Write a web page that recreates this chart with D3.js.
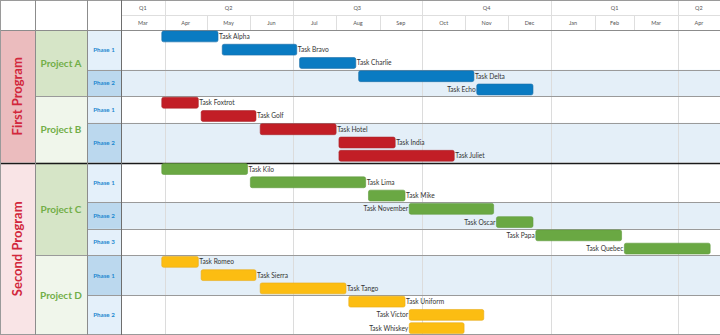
<!DOCTYPE html>
<html>
<head>
<meta charset="utf-8">
<script src="https://cdn.jsdelivr.net/npm/d3@7"></script>
<style>
  html, body { margin: 0; padding: 0; background: #fff; }
  svg { display: block; }
</style>
</head>
<body>
<svg id="chart" width="720" height="335"></svg>
<script>
// ---------- DATA ----------
const programs = ["First Program", "Second Program"];
const projects = ["Project A", "Project B", "Project C", "Project D"];
const projectProgram = ["First Program", "First Program", "Second Program", "Second Program"];

const taskNames = [
  "Task Alpha", "Task Bravo", "Task Charlie", "Task Delta", "Task Echo",
  "Task Foxtrot", "Task Golf", "Task Hotel", "Task India", "Task Juliet",
  "Task Kilo", "Task Lima", "Task Mike", "Task November", "Task Oscar", "Task Papa", "Task Quebec",
  "Task Romeo", "Task Sierra", "Task Tango", "Task Uniform", "Task Victor", "Task Whiskey"
];
const taskProject = [
  "Project A", "Project A", "Project A", "Project A", "Project A",
  "Project B", "Project B", "Project B", "Project B", "Project B",
  "Project C", "Project C", "Project C", "Project C", "Project C", "Project C", "Project C",
  "Project D", "Project D", "Project D", "Project D", "Project D", "Project D"
];
const taskPhase = [
  "Phase 1", "Phase 1", "Phase 1", "Phase 2", "Phase 2",
  "Phase 1", "Phase 1", "Phase 2", "Phase 2", "Phase 2",
  "Phase 1", "Phase 1", "Phase 1", "Phase 2", "Phase 2", "Phase 3", "Phase 3",
  "Phase 1", "Phase 1", "Phase 1", "Phase 2", "Phase 2", "Phase 2"
];
const taskStart = [
  "2022-03-30", "2022-05-12", "2022-07-06", "2022-08-17", "2022-11-09",
  "2022-03-30", "2022-04-27", "2022-06-08", "2022-08-03", "2022-08-03",
  "2022-03-30", "2022-06-01", "2022-08-24", "2022-09-22", "2022-11-23", "2022-12-21", "2023-02-22",
  "2022-03-30", "2022-04-27", "2022-06-08", "2022-08-10", "2022-09-22", "2022-09-22"
];
const taskEnd = [
  "2022-05-09", "2022-07-04", "2022-08-15", "2022-11-07", "2022-12-19",
  "2022-04-25", "2022-06-05", "2022-08-01", "2022-09-12", "2022-10-24",
  "2022-05-30", "2022-08-22", "2022-09-19", "2022-11-21", "2022-12-19", "2023-02-20", "2023-04-24",
  "2022-04-25", "2022-06-05", "2022-08-08", "2022-09-19", "2022-11-14", "2022-10-31"
];
const taskLabelSide = [
  "right", "right", "right", "right", "left",
  "right", "right", "right", "right", "right",
  "right", "right", "right", "left", "left", "left", "left",
  "right", "right", "right", "right", "left", "left"
];
const monthLabels = ["Mar", "Apr", "May", "Jun", "Jul", "Aug", "Sep", "Oct", "Nov", "Dec", "Jan", "Feb", "Mar", "Apr"];
const quarterLabels = ["Q1", "Q2", "Q3", "Q4", "Q1", "Q2"];
const timelineStart = "2022-03-01";
const timelineEnd = "2023-05-01";

// ---------- STYLE ----------
const W = 720, H = 335;
const colX = [0, 35, 87, 121];
const headerMid = 15, headerBottom = 30;
const projectColors = { "Project A": "#0a7bc2", "Project B": "#c21e26", "Project C": "#6aa843", "Project D": "#fcbd12" };
const projectStroke = { "Project A": "#1d6fa8", "Project B": "#a8262b", "Project C": "#5f9a3c", "Project D": "#e7ab18" };
const programFill = ["#ebbcbe", "#f9e4e6"];
const projectFill = ["#d6e5c7", "#f0f6eb"];
const labelFont = "Lato, 'Open Sans', sans-serif";

const parse = d3.timeParse("%Y-%m-%d");
const svg = d3.select("#chart");

const x = d3.scaleTime().domain([parse(timelineStart), parse(timelineEnd)]).range([colX[3], W]);
const y = d3.scaleBand().domain(taskNames).range([headerBottom, H]).padding(0);
const step = y.step();

const tasks = taskNames.map((n, i) => ({
  name: n, project: taskProject[i], phase: taskPhase[i],
  start: parse(taskStart[i]), end: parse(taskEnd[i]), side: taskLabelSide[i]
}));

// Phase groups
const phaseGroups = [];
tasks.forEach(t => {
  const key = t.project + "|" + t.phase;
  let g = phaseGroups.find(p => p.key === key);
  if (!g) { g = { key, project: t.project, phase: t.phase, tasks: [] }; phaseGroups.push(g); }
  g.tasks.push(t.name);
});
phaseGroups.forEach((g, i) => {
  g.y0 = y(g.tasks[0]);
  g.y1 = y(g.tasks[g.tasks.length - 1]) + step;
  g.idx = i;
});
const projGroups = projects.map((p, i) => {
  const ts = tasks.filter(t => t.project === p).map(t => t.name);
  return { name: p, idx: i, y0: y(ts[0]), y1: y(ts[ts.length - 1]) + step };
});
const progGroups = programs.map((p, i) => {
  const ts = tasks.filter(t => projectProgram[projects.indexOf(t.project)] === p).map(t => t.name);
  return { name: p, idx: i, y0: y(ts[0]), y1: y(ts[ts.length - 1]) + step };
});

// ---------- BACKGROUNDS ----------
svg.append("rect").attr("x", 0).attr("y", 0).attr("width", W).attr("height", H).attr("fill", "#fff");

// row backgrounds in chart area
svg.append("g").selectAll("rect").data(phaseGroups).join("rect")
  .attr("x", colX[3]).attr("y", d => d.y0).attr("width", W - colX[3]).attr("height", d => d.y1 - d.y0)
  .attr("fill", d => d.idx % 2 ? "#e4eff8" : "#ffffff");

// phase cells
svg.append("g").selectAll("rect").data(phaseGroups).join("rect")
  .attr("x", colX[2]).attr("y", d => d.y0).attr("width", colX[3] - colX[2]).attr("height", d => d.y1 - d.y0)
  .attr("fill", d => d.idx % 2 ? "#bbd8ee" : "#e4f0fa");

// project cells
svg.append("g").selectAll("rect").data(projGroups).join("rect")
  .attr("x", colX[1]).attr("y", d => d.y0).attr("width", colX[2] - colX[1]).attr("height", d => d.y1 - d.y0)
  .attr("fill", d => projectFill[d.idx % 2]);

// program cells
svg.append("g").selectAll("rect").data(progGroups).join("rect")
  .attr("x", colX[0]).attr("y", d => d.y0).attr("width", colX[1] - colX[0]).attr("height", d => d.y1 - d.y0)
  .attr("fill", d => programFill[d.idx % 2]);

// ---------- GRID ----------
const months = d3.timeMonth.range(parse(timelineStart), parse(timelineEnd));
const quarterBounds = [parse(timelineStart)].concat(
  d3.timeMonth.every(3).range(d3.timeDay.offset(parse(timelineStart), 1), parse(timelineEnd))
).concat([parse(timelineEnd)]);

// body vertical quarter lines
svg.append("g").selectAll("line").data(quarterBounds.slice(1, -1)).join("line")
  .attr("x1", d => Math.round(x(d)) + 0.5).attr("x2", d => Math.round(x(d)) + 0.5)
  .attr("y1", headerBottom).attr("y2", H)
  .attr("stroke", "#dcdcdc").attr("stroke-width", 1);

// header vertical lines: months in lower row, quarters in upper row
svg.append("g").selectAll("line").data(months.slice(1)).join("line")
  .attr("x1", d => Math.round(x(d)) + 0.5).attr("x2", d => Math.round(x(d)) + 0.5)
  .attr("y1", headerMid).attr("y2", headerBottom)
  .attr("stroke", "#dedede");
svg.append("g").selectAll("line").data(quarterBounds.slice(1, -1)).join("line")
  .attr("x1", d => Math.round(x(d)) + 0.5).attr("x2", d => Math.round(x(d)) + 0.5)
  .attr("y1", 0).attr("y2", headerMid)
  .attr("stroke", "#dedede");
svg.append("line").attr("x1", colX[3]).attr("x2", W).attr("y1", headerMid + 0.5).attr("y2", headerMid + 0.5)
  .attr("stroke", "#dedede");

// horizontal lines between phases in chart + phase column
svg.append("g").selectAll("line").data(phaseGroups.slice(1)).join("line")
  .attr("x1", colX[2]).attr("x2", W)
  .attr("y1", d => Math.round(d.y0) + 0.5).attr("y2", d => Math.round(d.y0) + 0.5)
  .attr("stroke", "#9a9a9a");
// project boundaries across project column
svg.append("g").selectAll("line").data(projGroups.slice(1)).join("line")
  .attr("x1", colX[1]).attr("x2", W)
  .attr("y1", d => Math.round(d.y0) + 0.5).attr("y2", d => Math.round(d.y0) + 0.5)
  .attr("stroke", "#9a9a9a");
// program boundary
svg.append("g").selectAll("line").data(progGroups.slice(1)).join("line")
  .attr("x1", 0).attr("x2", W)
  .attr("y1", d => Math.round(d.y0) + 0.5).attr("y2", d => Math.round(d.y0) + 0.5)
  .attr("stroke", "#1a1a1a").attr("stroke-width", 1.4);

// header bottom, top, bottom border
svg.append("line").attr("x1", 0).attr("x2", W).attr("y1", headerBottom + 0.5).attr("y2", headerBottom + 0.5)
  .attr("stroke", "#8c8c8c");
svg.append("line").attr("x1", 0).attr("x2", W).attr("y1", 0.5).attr("y2", 0.5).attr("stroke", "#9a9a9a");
svg.append("line").attr("x1", 0).attr("x2", W).attr("y1", H - 0.5).attr("y2", H - 0.5).attr("stroke", "#9a9a9a");

// column vertical lines
svg.append("g").selectAll("line").data(colX.slice(1)).join("line")
  .attr("x1", d => d + 0.5).attr("x2", d => d + 0.5).attr("y1", 0).attr("y2", H)
  .attr("stroke", (d, i) => i === 2 ? "#6e6e6e" : "#8c8c8c");
svg.append("line").attr("x1", 0.5).attr("x2", 0.5).attr("y1", 0).attr("y2", H).attr("stroke", "#9a9a9a");

// ---------- HEADER TEXT ----------
svg.append("g").selectAll("text").data(months).join("text")
  .attr("x", (d, i) => (x(d) + Math.min(W, x(d3.timeMonth.offset(d, 1)))) / 2)
  .attr("y", 24.5)
  .attr("text-anchor", "middle")
  .attr("font-family", labelFont).attr("font-size", 5.5).attr("fill", "#555")
  .text((d, i) => monthLabels[i]);

svg.append("g").selectAll("text").data(quarterBounds.slice(0, -1)).join("text")
  .attr("x", (d, i) => (x(d) + x(quarterBounds[i + 1])) / 2)
  .attr("y", 9.5)
  .attr("text-anchor", "middle")
  .attr("font-family", labelFont).attr("font-size", 5.5).attr("fill", "#555")
  .text((d, i) => quarterLabels[i]);

// ---------- LEFT LABELS ----------
svg.append("g").selectAll("text").data(progGroups).join("text")
  .attr("transform", d => `translate(${(colX[0] + colX[1]) / 2 + 4.5},${(d.y0 + d.y1) / 2}) rotate(-90)`)
  .attr("text-anchor", "middle")
  .attr("font-family", labelFont).attr("font-weight", 700).attr("font-size", 13)
  .attr("fill", "#d2273c")
  .text(d => d.name);

svg.append("g").selectAll("text").data(projGroups).join("text")
  .attr("x", (colX[1] + colX[2]) / 2).attr("y", d => (d.y0 + d.y1) / 2 + 3.5)
  .attr("text-anchor", "middle")
  .attr("font-family", labelFont).attr("font-weight", 700).attr("font-size", 10)
  .attr("fill", "#72ae48")
  .text(d => d.name);

svg.append("g").selectAll("text").data(phaseGroups).join("text")
  .attr("x", (colX[2] + colX[3]) / 2).attr("y", d => (d.y0 + d.y1) / 2 + 2.2)
  .attr("text-anchor", "middle")
  .attr("font-family", labelFont).attr("font-weight", 700).attr("font-size", 6.2)
  .attr("fill", "#1e88d0")
  .text(d => d.phase);

// ---------- BARS ----------
const barInset = 1;
svg.append("g").selectAll("rect").data(tasks).join("rect")
  .attr("x", d => x(d.start)).attr("y", d => y(d.name) + barInset)
  .attr("width", d => x(d.end) - x(d.start)).attr("height", step - 2 * barInset - 0.4)
  .attr("rx", 1.8)
  .attr("fill", d => projectColors[d.project])
  .attr("stroke", d => projectStroke[d.project]).attr("stroke-width", 0.6);

svg.append("g").selectAll("text").data(tasks).join("text")
  .attr("x", d => d.side === "right" ? x(d.end) + 1 : x(d.start) - 1)
  .attr("y", d => y(d.name) + step / 2 + 2.3)
  .attr("text-anchor", d => d.side === "right" ? "start" : "end")
  .attr("font-family", labelFont).attr("font-size", 6.6).attr("fill", "#333")
  .text(d => d.name);
</script>
</body>
</html>
